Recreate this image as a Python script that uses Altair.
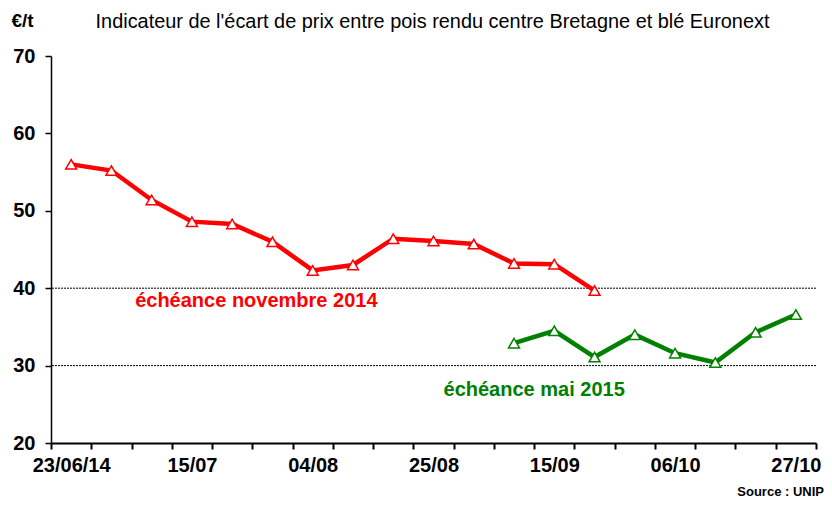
import altair as alt
import pandas as pd

# Weekly categories (only every third label is shown)
categories = ["23/06/14", "30/06", "07/07", "15/07", "21/07", "28/07", "04/08",
              "11/08", "18/08", "25/08", "01/09", "08/09", "15/09", "22/09",
              "29/09", "06/10", "13/10", "20/10", "27/10"]

# échéance novembre 2014 : categories 0..13
nov_values = [56.0, 55.2, 51.4, 48.6, 48.3, 46.0, 42.3, 43.0, 46.4, 46.1,
              45.7, 43.2, 43.1, 39.7]
nov_start = 0

# échéance mai 2015 : categories 11..18
mai_values = [32.9, 34.5, 31.1, 34.0, 31.6, 30.4, 34.3, 36.6]
mai_start = 11

grid_values = [30, 40]
y_ticks = [20, 30, 40, 50, 60, 70]

note_text = ["échéance novembre 2014", "échéance mai 2015"]
note_x = [5.1, 12.0]
note_y = [38.3, 26.9]
note_color = ["#FF0000", "#008000"]

title_text = "Indicateur de l'écart de prix entre pois rendu centre Bretagne et blé Euronext"
source_text = "Source : UNIP"

RED = "#FF0000"
GREEN = "#008000"
FONT = "Liberation Sans"

W, H = 765, 387
n_cat = len(categories)

nov_df = pd.DataFrame({"x": [nov_start + i + 0.5 for i in range(len(nov_values))],
                       "v": nov_values})
mai_df = pd.DataFrame({"x": [mai_start + i + 0.5 for i in range(len(mai_values))],
                       "v": mai_values})
grid_df = pd.DataFrame({"v": grid_values})
notes_df = pd.DataFrame({"t": note_text, "x": note_x, "y": note_y, "c": note_color})

label_array = "[" + ",".join("'" + c + "'" for c in categories) + "]"
label_expr = f"(datum.value % 3 == 0 && datum.value < {n_cat}) ? {label_array}[datum.value] : ''"

x_enc = alt.X(
    "x:Q",
    scale=alt.Scale(domain=[0, n_cat], nice=False, zero=False),
    axis=alt.Axis(
        values=list(range(n_cat + 1)),
        labelExpr=label_expr,
        labelOffset=W / n_cat / 2,
        labelOverlap=False,
        labelFlush=False,
        labelPadding=6,
        tickSize=6,
        tickWidth=2,
        tickColor="black",
        domainColor="black",
        domainWidth=2,
        grid=False,
        title=None,
        labelFont=FONT,
        labelFontWeight="bold",
        labelFontSize=20,
        labelColor="black",
    ),
)

y_enc = alt.Y(
    "v:Q",
    scale=alt.Scale(domain=[20, 70], nice=False, zero=False),
    axis=alt.Axis(
        values=y_ticks,
        tickSize=6,
        tickWidth=1.5,
        tickColor="black",
        domainColor="black",
        domainWidth=1.5,
        grid=False,
        labelPadding=10,
        labelFont=FONT,
        labelFontWeight="bold",
        labelFontSize=20,
        labelColor="black",
        title="€/t",
        titleAngle=0,
        titleX=-29,
        titleY=-36,
        titleAlign="center",
        titleBaseline="middle",
        titleFont=FONT,
        titleFontWeight="bold",
        titleFontSize=19,
        titleColor="black",
    ),
)

grid = alt.Chart(grid_df).mark_rule(color="black", strokeWidth=1, strokeDash=[2, 1]).encode(
    y=alt.Y("v:Q", scale=alt.Scale(domain=[20, 70], nice=False, zero=False))
)


def series(df, color):
    base = alt.Chart(df).encode(x=x_enc, y=y_enc)
    line = base.mark_line(color=color, strokeWidth=4.5)
    pts = base.mark_point(shape="triangle-up", filled=True, fill="white",
                          stroke=color, strokeWidth=1.5, size=120, opacity=1)
    return line + pts


notes = alt.Chart(notes_df).mark_text(font=FONT, fontWeight="bold", fontSize=20,
                                      align="center", baseline="middle").encode(
    x=alt.X("x:Q"), y=alt.Y("y:Q"), text="t:N", color=alt.Color("c:N", scale=None)
)

title = alt.Chart(pd.DataFrame({"t": [title_text]})).mark_text(
    font=FONT, fontWeight="normal", fontSize=19.9, align="center", baseline="middle", color="black"
).encode(x=alt.value(W / 2 - 1), y=alt.value(-34), text="t:N")

source = alt.Chart(pd.DataFrame({"t": [source_text]})).mark_text(
    font=FONT, fontWeight="bold", fontSize=13, align="right", baseline="middle", color="black"
).encode(x=alt.value(W + 8), y=alt.value(H + 49), text="t:N")

chart = alt.layer(
    grid,
    series(nov_df, RED),
    series(mai_df, GREEN),
    notes,
    title,
    source,
).properties(
    width=W,
    height=H,
    padding={"left": 43, "top": 48, "right": 8, "bottom": 58},
    autosize=alt.AutoSizeParams(type="none"),
).configure_view(stroke=None)

chart.save("out.html", embed_options={"renderer": "svg", "actions": False})
